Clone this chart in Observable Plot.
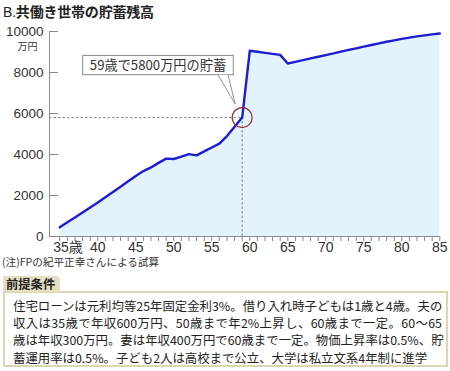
<!DOCTYPE html>
<html><head><meta charset="utf-8">
<script src="https://cdn.jsdelivr.net/npm/d3@7"></script>
<script src="https://cdn.jsdelivr.net/npm/@observablehq/plot@0.6"></script>
<style>
html,body{margin:0;padding:0;background:#fff;}
#wrap{position:relative;width:450px;height:371px;overflow:hidden;font-family:"Noto Sans CJK JP",sans-serif;color:#222;}
#title{position:absolute;left:3px;top:1px;font-size:14px;font-weight:bold;white-space:nowrap;letter-spacing:-0.2px;}
#title .b{font-family:"Liberation Sans Narrow","Liberation Sans",sans-serif;font-weight:normal;font-size:14px;}
#chart{position:absolute;left:0;top:20px;}
#note{position:absolute;left:2px;top:256px;font-size:10.6px;line-height:12px;white-space:nowrap;color:#333;}
#tab{position:absolute;left:3px;top:276px;width:57px;height:16px;background:#e6dec3;border-radius:0 4px 0 0;font-size:12.3px;font-weight:bold;line-height:16px;text-indent:3px;}
#box{position:absolute;left:3px;top:291px;border:2px solid #ddd4b4;box-sizing:border-box;width:445px;height:76px;}
#text{position:absolute;left:13px;top:298px;width:429px;font-size:12.4px;line-height:17.2px;color:#222;}
#text div{text-align:justify;text-align-last:justify;white-space:nowrap;}
#text div.last{text-align:left;text-align-last:left;}
</style>
</head><body>
<div id="wrap">
  <div id="title"><span class="b">B.</span>共働き世帯の貯蓄残高</div>
  <div id="chart"></div>
  <div id="note">(注)FPの紀平正幸さんによる試算</div>
  <div id="box"></div>
  <div id="tab">前提条件</div>
  <div id="text"></div>
</div>
<script>
// ---- data ----
const ages = [35,36,37,38,39,40,41,42,43,44,45,46,47,48,49,50,51,52,53,54,55,56,57,58,59,60,61,62,63,64,65,66,67,68,69,70,71,72,73,74,75,76,77,78,79,80,81,82,83,84,85];
const savings = [450,690,930,1170,1410,1660,1910,2170,2430,2690,2950,3190,3370,3590,3800,3780,3900,4020,3960,4150,4340,4530,4900,5350,5800,9060,9010,8960,8910,8860,8440,8520,8600,8690,8770,8850,8930,9020,9100,9180,9260,9340,9420,9500,9570,9640,9700,9760,9810,9860,9900];
const xTicks = [40,45,50,55,60,65,70,75,80,85];
const xTickLabels = ["40","45","50","55","60","65","70","75","80","85"];
const firstTick = 35;
const firstTickLabel = "35歳";
const yTicks = [0,2000,4000,6000,8000,10000];
const yTickLabels = ["0","2000","4000","6000","8000","10000"];
const yUnit = "万円";
const markAge = 59;
const markValue = 5800;
const calloutText = "59歳で5800万円の貯蓄";
const assumptions = [
  "住宅ローンは元利均等25年固定金利3%。借り入れ時子どもは1歳と4歳。夫の",
  "収入は35歳で年収600万円、50歳まで年2%上昇し、60歳まで一定。60～65",
  "歳は年収300万円。妻は年収400万円で60歳まで一定。物価上昇率は0.5%、貯",
  "蓄運用率は0.5%。子ども2人は高校まで公立、大学は私立文系4年制に進学"
];
const xMin = 33.65, xMax = 85;

const W = 450, ML = 49, MR = 10.7;
const yearPx = (W - ML - MR) / (xMax - xMin);
const yTickLen = 9 / yearPx; // inward tick length, in years

const data = ages.map((a,i)=>({age:a, v:savings[i]}));
const numFont = "'Liberation Sans Narrow','Liberation Sans','Noto Sans CJK JP',sans-serif";

const plot = Plot.plot({
  width: W, height: 240,
  marginLeft: ML, marginRight: MR, marginTop: 11, marginBottom: 24,
  style: {fontFamily: numFont, fontSize: "13.5px", color: "#333", background: "transparent", overflow: "visible"},
  x: {domain: [xMin, xMax]},
  y: {domain: [0, 10000]},
  marks: [
    Plot.areaY(data, {x: "age", y: "v", fill: "#e3f3fd"}),
    Plot.ruleY([markValue], {x1: xMin, x2: markAge, stroke: "#666", strokeWidth: 0.8, strokeDasharray: "2.5,2"}),
    Plot.ruleX([markAge], {y1: 0, y2: markValue, stroke: "#666", strokeWidth: 0.8, strokeDasharray: "2.5,2"}),
    Plot.frame({anchor: "left", stroke: "#888"}),
    Plot.frame({anchor: "bottom", stroke: "#888"}),
    Plot.ruleY(yTicks, {x1: xMin, x2: xMin + yTickLen, stroke: "#888", strokeWidth: 1}),
    Plot.axisY({ticks: yTicks, tickFormat: (d) => yTickLabels[yTicks.indexOf(d)], tickSize: 0, tickPadding: 6, fontSize: 13.5, label: null}),
    Plot.text([yUnit], {x: xMin, y: 10000, text: d => d, dx: -22, dy: 15, textAnchor: "middle", fontSize: 10, fontFamily: "'Noto Sans CJK JP',sans-serif"}),
    Plot.axisX({ticks: ages, tickSize: 5, tickFormat: () => "", stroke: "#888", label: null}),
    Plot.axisX({ticks: xTicks, tickSize: 0, tickPadding: 6, tickFormat: (d) => xTickLabels[xTicks.indexOf(d)], fontSize: 14, label: null}),
    Plot.text([firstTick], {x: d => d, y: 0, text: () => firstTickLabel, dx: -6.5, dy: 6, textAnchor: "start", lineAnchor: "top", fontSize: 14}),
    Plot.lineY(data, {x: "age", y: "v", stroke: "#1c1cd2", strokeWidth: 2.4}),
    Plot.dot([markAge], {x: d => d, y: markValue, r: 10, stroke: "#9b2b2b", strokeWidth: 1.2, fill: "none"})
  ]
});
document.getElementById("chart").appendChild(plot);

// callout box anchored to the marked point, via the plot's scales
const px = plot.scale("x").apply(markAge);
const py = plot.scale("y").apply(markValue);
const svg = d3.select(plot);
const g = svg.append("g");
const bx0 = px - 159, bx1 = px - 8.4, by0 = py - 61.7, by1 = py - 42.4;
g.append("rect").attr("x", bx0).attr("y", by0).attr("width", bx1 - bx0).attr("height", by1 - by0)
  .attr("fill", "#fff").attr("stroke", "#888").attr("stroke-width", 1);
const pa = [px - 23.7, by1], pb = [px - 13.7, by1], pt = [px - 6.5, py - 13];
g.append("path").attr("d", `M${pa}L${pt}L${pb}Z`).attr("fill", "#fff").attr("stroke", "none");
g.append("path").attr("d", `M${pa}L${pt}L${pb}`).attr("fill", "none").attr("stroke", "#888").attr("stroke-width", 0.9);
g.append("text").attr("x", (bx0 + bx1) / 2).attr("y", (by0 + by1) / 2).attr("dy", "0.36em")
  .attr("text-anchor", "middle").attr("font-size", 13.2).attr("fill", "#333")
  .attr("font-family", "'Noto Sans CJK JP',sans-serif").text(calloutText);

const tx = d3.select("#text");
assumptions.forEach((s, i) => tx.append("div").attr("class", i === assumptions.length - 1 ? "last" : null).text(s));
</script>
</body></html>
